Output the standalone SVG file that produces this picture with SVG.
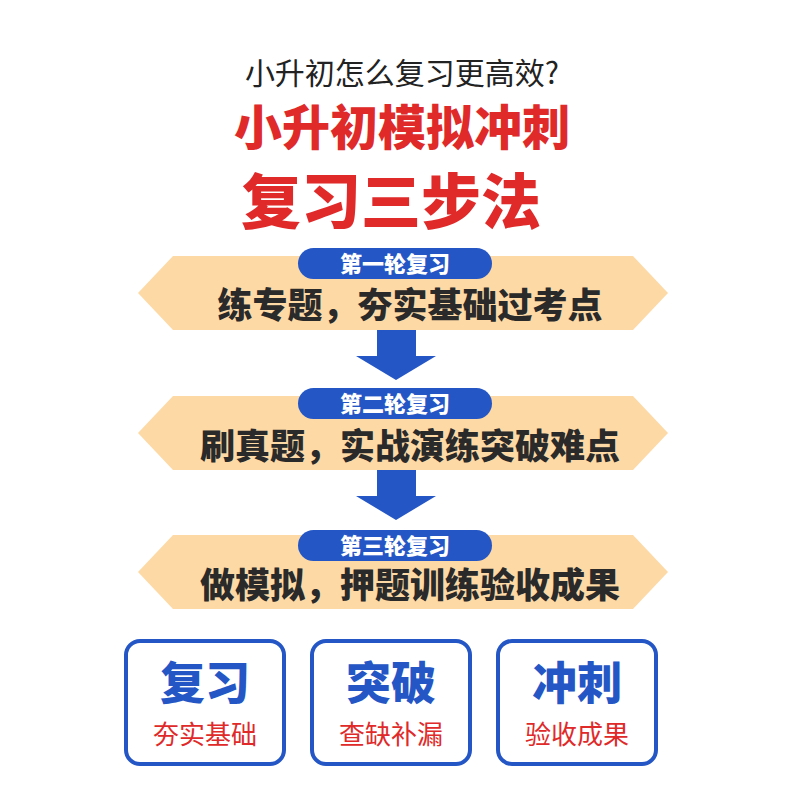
<svg xmlns="http://www.w3.org/2000/svg" width="800" height="800" viewBox="0 0 800 800">
<style>
text{font-family:"Noto Sans CJK SC","Noto Sans",sans-serif;text-anchor:middle}
.band{fill:#fdd9a6}
.pill{fill:#2456c6}
.pt{fill:#fff;font-size:22px;font-weight:900}
.bt{fill:#2a2a2a;font-size:35px;font-weight:900}
.arr{fill:#2456c6}
.box{fill:#fff;stroke:#2456c6;stroke-width:4}
.h{fill:#2456c6;font-size:45px;font-weight:900}
.s{fill:#e02a2a;font-size:26px}
</style>
<rect width="800" height="800" fill="#fff"/>
<g id="title">
<text x="402" y="84" font-size="30" fill="#222">小升初怎么复习更高效?</text>
<text x="402" y="145" font-size="48" font-weight="900" fill="#e02a2a">小升初模拟冲刺</text>
<text x="391" y="224" font-size="60" font-weight="900" fill="#e02a2a">复习三步法</text>
</g>
<g id="step1">
<polygon class="band" points="138,293 173,256 633,256 668,293 633,330 173,330"/>
<rect class="pill" x="298" y="248" width="194" height="31" rx="15.5"/>
<text class="pt" x="395" y="272">第一轮复习</text>
<text class="bt" x="410" y="318">练专题，夯实基础过考点</text>
</g>
<g id="step2">
<polygon class="band" points="138,433 173,396 633,396 668,433 633,470 173,470"/>
<rect class="pill" x="298" y="388" width="194" height="31" rx="15.5"/>
<text class="pt" x="395" y="412">第二轮复习</text>
<text class="bt" x="410" y="459">刷真题，实战演练突破难点</text>
</g>
<g id="step3">
<polygon class="band" points="138,572 173,535 633,535 668,572 633,609 173,609"/>
<rect class="pill" x="298" y="530" width="194" height="31" rx="15.5"/>
<text class="pt" x="395" y="554">第三轮复习</text>
<text class="bt" x="410" y="598">做模拟，押题训练验收成果</text>
</g>
<g id="connectors">
<polygon class="arr" points="377,330 416,330 416,356 436,356 396,380 356,356 377,356"/>
<polygon class="arr" points="377,470 416,470 416,496 436,496 396,520 356,496 377,496"/>
</g>
<g id="box1">
<rect class="box" x="126" y="641" width="158" height="123" rx="14"/>
<text class="h" x="205" y="700">复习</text>
<text class="s" x="205" y="744">夯实基础</text>
</g>
<g id="box2">
<rect class="box" x="312" y="641" width="158" height="123" rx="14"/>
<text class="h" x="391" y="700">突破</text>
<text class="s" x="391" y="744">查缺补漏</text>
</g>
<g id="box3">
<rect class="box" x="498" y="641" width="158" height="123" rx="14"/>
<text class="h" x="577" y="700">冲刺</text>
<text class="s" x="577" y="744">验收成果</text>
</g>
</svg>
